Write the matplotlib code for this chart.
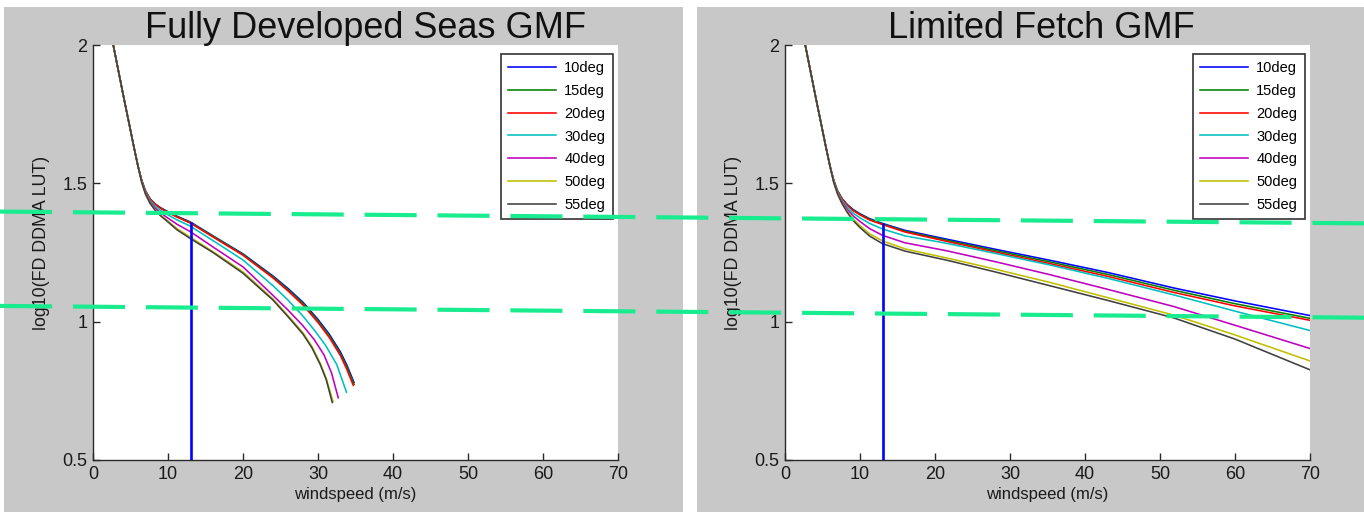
import matplotlib
matplotlib.use("Agg")
import matplotlib.pyplot as plt
import numpy as np
from matplotlib.patches import Rectangle
from matplotlib.lines import Line2D

plt.rcParams["font.family"] = ["Liberation Sans Narrow", "Liberation Sans", "DejaVu Sans"]

# Incidence angles and line colours
angles = ["10deg", "15deg", "20deg", "30deg", "40deg", "50deg", "55deg"]
colors = ["#0000ff", "#008000", "#ff0000", "#00bfbf", "#bf00bf", "#bfbf00", "#404040"]

# Fully developed seas GMF: shared wind speeds up to 24 m/s, then a tail per angle
fds_x = [2.7, 3.4, 4.1, 4.8, 5.4, 6.0, 6.5, 7.0, 7.6, 8.3, 9.0, 9.8, 11.2, 13, 16, 20, 24]
fds_y = [
    [2.00, 1.905, 1.81, 1.718, 1.638, 1.562, 1.510, 1.472, 1.444, 1.425, 1.412, 1.400, 1.381, 1.360, 1.310, 1.245, 1.165],
    [2.00, 1.905, 1.81, 1.718, 1.638, 1.562, 1.510, 1.472, 1.444, 1.425, 1.411, 1.399, 1.380, 1.358, 1.309, 1.243, 1.162],
    [2.00, 1.905, 1.81, 1.718, 1.638, 1.562, 1.510, 1.471, 1.443, 1.424, 1.410, 1.397, 1.378, 1.356, 1.306, 1.240, 1.158],
    [2.00, 1.905, 1.81, 1.718, 1.638, 1.562, 1.508, 1.468, 1.438, 1.417, 1.402, 1.389, 1.368, 1.345, 1.293, 1.223, 1.130],
    [2.00, 1.905, 1.81, 1.718, 1.638, 1.562, 1.506, 1.465, 1.433, 1.410, 1.393, 1.378, 1.352, 1.325, 1.270, 1.198, 1.095],
    [2.00, 1.905, 1.81, 1.718, 1.638, 1.562, 1.504, 1.462, 1.429, 1.404, 1.385, 1.368, 1.336, 1.305, 1.253, 1.180, 1.082],
    [2.00, 1.905, 1.81, 1.718, 1.638, 1.562, 1.503, 1.461, 1.428, 1.402, 1.383, 1.365, 1.332, 1.300, 1.250, 1.175, 1.078],
]
fds_tail_x = [
    [26, 28, 30, 31.5, 33, 33.9, 34.8],
    [26, 28, 30, 31.5, 33, 33.9, 34.8],
    [26, 28, 30, 31.5, 33, 33.8, 34.7],
    [26, 28, 29.5, 31, 32.5, 33.8],
    [26, 28, 29.5, 30.8, 31.8, 32.7],
    [26, 28, 29.2, 30.3, 31.1, 32.0],
    [26, 28, 29.2, 30.3, 31.1, 31.9],
]
fds_tail_y = [
    [1.120, 1.070, 1.008, 0.955, 0.890, 0.840, 0.780],
    [1.116, 1.066, 1.003, 0.950, 0.884, 0.834, 0.773],
    [1.111, 1.060, 0.997, 0.943, 0.877, 0.830, 0.770],
    [1.078, 1.020, 0.970, 0.915, 0.845, 0.745],
    [1.042, 0.985, 0.935, 0.880, 0.815, 0.725],
    [1.022, 0.960, 0.910, 0.850, 0.795, 0.712],
    [1.018, 0.955, 0.905, 0.845, 0.790, 0.708],
]

# Limited fetch GMF
lf_x = [2.7, 3.4, 4.1, 4.8, 5.4, 6.0, 6.5, 7.0, 7.6, 8.3, 9.1, 10.0, 11.3, 13,
        16, 21.6, 28, 35.3, 43, 51.8, 60, 70]
lf_y = [
    [2.00, 1.905, 1.81, 1.718, 1.638, 1.562, 1.510, 1.473, 1.445, 1.423, 1.405, 1.390, 1.372, 1.355,
     1.330, 1.298, 1.262, 1.222, 1.178, 1.122, 1.075, 1.022],
    [2.00, 1.905, 1.81, 1.718, 1.638, 1.562, 1.510, 1.473, 1.445, 1.422, 1.403, 1.388, 1.370, 1.353,
     1.327, 1.294, 1.257, 1.216, 1.171, 1.114, 1.065, 1.012],
    [2.00, 1.905, 1.81, 1.718, 1.638, 1.562, 1.510, 1.472, 1.444, 1.421, 1.401, 1.386, 1.367, 1.351,
     1.324, 1.290, 1.252, 1.210, 1.164, 1.106, 1.057, 1.005],
    [2.00, 1.905, 1.81, 1.718, 1.638, 1.562, 1.508, 1.469, 1.439, 1.414, 1.392, 1.375, 1.355, 1.335,
     1.310, 1.283, 1.247, 1.205, 1.157, 1.097, 1.038, 0.968],
    [2.00, 1.905, 1.81, 1.718, 1.638, 1.562, 1.506, 1.466, 1.434, 1.406, 1.382, 1.362, 1.336, 1.312,
     1.285, 1.256, 1.217, 1.170, 1.117, 1.055, 0.987, 0.903],
    [2.00, 1.905, 1.81, 1.718, 1.638, 1.562, 1.504, 1.463, 1.429, 1.398, 1.370, 1.347, 1.317, 1.292,
     1.263, 1.230, 1.190, 1.142, 1.087, 1.024, 0.952, 0.858],
    [2.00, 1.905, 1.81, 1.718, 1.638, 1.562, 1.503, 1.462, 1.427, 1.395, 1.365, 1.340, 1.309, 1.282,
     1.255, 1.222, 1.180, 1.130, 1.077, 1.014, 0.937, 0.826],
]

# Marked wind speed and the two threshold levels (left axis at x=0, right axis at x=70)
wind_mark = 13
level_left = [1.395, 1.054]
level_right = [1.357, 1.016]

W, H = 1364, 512
fig = plt.figure(figsize=(W / 100, H / 100), dpi=100, facecolor="white")

# grey panel backgrounds
grey = "#c8c8c8"
fig.add_artist(Rectangle((4 / W, 0), 679 / W, 505 / H, transform=fig.transFigure,
                         facecolor=grey, edgecolor="none", zorder=-2))
fig.add_artist(Rectangle((697 / W, 0), 667 / W, 505 / H, transform=fig.transFigure,
                         facecolor=grey, edgecolor="none", zorder=-2))

ax_w, ax_h = 525 / W, 415 / H
ax_b = 52 / H
ax1 = fig.add_axes([93 / W, ax_b, ax_w, ax_h])
ax2 = fig.add_axes([785 / W, ax_b, ax_w, ax_h])


def style_axes(ax, title, title_x):
    ax.set_facecolor("white")
    ax.set_xlim(0, 70)
    ax.set_ylim(0.5, 2)
    ax.set_xticks(range(0, 71, 10))
    ax.set_yticks([0.5, 1, 1.5, 2])
    ax.set_yticklabels(["0.5", "1", "1.5", "2"])
    for side in ["top", "right"]:
        ax.spines[side].set_visible(False)
    for side in ["left", "bottom"]:
        ax.spines[side].set_color("#2a2a2a")
        ax.spines[side].set_linewidth(1.0)
    ax.tick_params(direction="in", length=5, width=1.0, color="#2a2a2a",
                   labelsize=13, labelcolor="#1a1a1a", pad=4)
    ax.set_xlabel("windspeed (m/s)", fontsize=12, color="#1a1a1a")
    ax.set_ylabel("log10(FD DDMA LUT)", fontsize=12.8, color="#1a1a1a")
    ax.xaxis.set_label_coords(0.5, -0.066)
    ax.yaxis.set_label_coords(-0.082, 0.5 + 10 / 415)
    ax.text(title_x, 1 + 7 / 415, title, transform=ax.transAxes, ha="center",
            va="baseline", fontsize=26, color="#111111",
            family=["Liberation Sans", "DejaVu Sans"])


def add_legend(ax):
    leg = ax.legend(loc="upper right", bbox_to_anchor=(1 - 5.5 / 525, 1 - 9 / 415),
                    borderaxespad=0, fontsize=10.5, handlelength=3.3,
                    handletextpad=0.55, labelspacing=0.6, borderpad=0.5,
                    fancybox=False, framealpha=1)
    leg.get_frame().set_edgecolor("#333333")
    leg.get_frame().set_linewidth(1.2)


# left panel
for i, lab in enumerate(angles):
    xs = fds_x + fds_tail_x[i]
    ys = fds_y[i] + fds_tail_y[i]
    ax1.plot(xs, ys, color=colors[i], lw=1.15, label=lab)
top_left = fds_y[0][fds_x.index(wind_mark)]
ax1.vlines(wind_mark, 0.5, top_left, color="#0000ff", lw=1.9, zorder=3)
style_axes(ax1, "Fully Developed Seas GMF", 0.5 + 10 / 525)
add_legend(ax1)

# right panel
for i, lab in enumerate(angles):
    ax2.plot(lf_x, lf_y[i], color=colors[i], lw=1.15, label=lab)
top_right = lf_y[0][lf_x.index(wind_mark)]
ax2.vlines(wind_mark, 0.5, top_right, color="#0000ff", lw=1.9, zorder=3)
style_axes(ax2, "Limited Fetch GMF", 0.5 - 6 / 525)
add_legend(ax2)

# dashed threshold lines running across both panels
fig.canvas.draw()
to_fig = fig.transFigure.inverted()
for yl, yr in zip(level_left, level_right):
    p0 = to_fig.transform(ax1.transData.transform((0, yl)))
    p1 = to_fig.transform(ax2.transData.transform((70, yr)))
    slope = (p1[1] - p0[1]) / (p1[0] - p0[0])
    xs = np.array([0.0, 1.0])
    ys = p0[1] + slope * (xs - p0[0])
    fig.add_artist(Line2D(xs, ys, transform=fig.transFigure, color="#18ec8e",
                          lw=3.0, dashes=(12.5, 5.0), solid_capstyle="butt",
                          dash_capstyle="butt", zorder=10))

fig.savefig("out.png", dpi=100, facecolor="white")
